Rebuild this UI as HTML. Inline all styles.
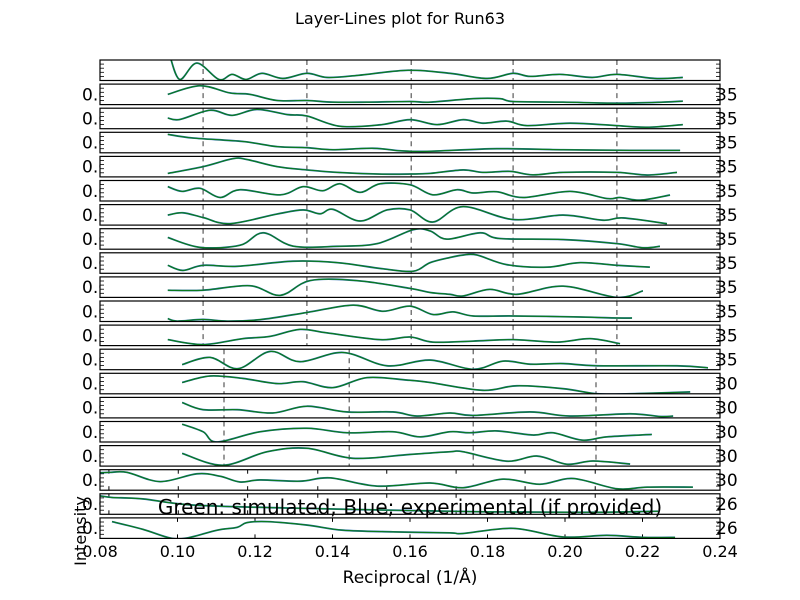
<!DOCTYPE html>
<html><head><meta charset="utf-8"><style>
body{margin:0;background:#fff}
svg{display:block;font-family:"DejaVu Sans","Liberation Sans",sans-serif}
</style></head><body>
<svg id="chart" width="800" height="600" viewBox="0 0 800 600">
<rect width="800" height="600" fill="#fff"/>
<text x="400" y="24" text-anchor="middle" font-size="16">Layer-Lines plot for Run63</text>
<g id="panels"></g>
<g id="xaxis"></g>
<text x="410" y="583" text-anchor="middle" font-size="17">Reciprocal (1/Å)</text>
<text transform="translate(86,531) rotate(-90)" text-anchor="middle" font-size="16">Intensity</text>
<text x="410" y="514" text-anchor="middle" font-size="20">Green: simulated; Blue; experimental (if provided)</text>
</svg>
<script>
const xTicks=[0.08,0.10,0.12,0.14,0.16,0.18,0.20,0.22,0.24];
const xTickLabels=["0.08","0.10","0.12","0.14","0.16","0.18","0.20","0.22","0.24"];
const rightLabels=["","35","35","35","35","35","35","35","35","35","35","35","35","30","30","30","30","30","26","26"];
const gridA=[0.1066,0.1334,0.1603,0.1866,0.2134];
const gridB=[0.1120,0.1443,0.1763,0.2080];
const gridC=[0.0823,0.1002,0.1181,0.1362,0.1540,0.1719,0.1897,0.2078];
const gridD=[0.10,0.12,0.14,0.16,0.18,0.20,0.22];
const layerX=[
[.0981,.1006,.1050,.1107,.1141,.1177,.1218,.1272,.1334,.1386,.1466,.1595,.1703,.1799,.1866,.1910,.1987,.2070,.2134,.2232,.2304],
[.0975,.1058,.1135,.1187,.1257,.1334,.1401,.1489,.1600,.1652,.1763,.1832,.1866,.1995,.2134,.2253,.2304],
[.0975,.1006,.1084,.1141,.1205,.1283,.1334,.1419,.1523,.1600,.1670,.1737,.1788,.1850,.1902,.2013,.2134,.2212,.2304],
[.0975,.1040,.1169,.1257,.1334,.1401,.1505,.1574,.1644,.1824,.1995,.2168,.2297],
[.0975,.1066,.1143,.1179,.1257,.1334,.1412,.1515,.1600,.1652,.1737,.1788,.1858,.1917,.1995,.2134,.2212,.2289],
[.0975,.1012,.1058,.1110,.1161,.1265,.1324,.1375,.1419,.1471,.1523,.1600,.1659,.1721,.1763,.1824,.1892,.2013,.2108,.2142,.2194,.2271],
[.0975,.1014,.1066,.1135,.1257,.1324,.1368,.1401,.1471,.1541,.1600,.1659,.1737,.1866,.1995,.2098,.2150,.2263],
[.0975,.1058,.1161,.1221,.1298,.1412,.1515,.1608,.1652,.1695,.1781,.1832,.1995,.2134,.2201,.2245],
[.0975,.1014,.1066,.1154,.1298,.1412,.1530,.1608,.1652,.1703,.1737,.1773,.1850,.1954,.2039,.2134,.2219],
[.0975,.1066,.1187,.1265,.1342,.1463,.1600,.1652,.1703,.1737,.1806,.1876,.1995,.2134,.2201],
[.0975,.0999,.1066,.1128,.1213,.1334,.1453,.1530,.1600,.1659,.1711,.1763,.1866,.2039,.2134,.2173],
[.0975,.1066,.1169,.1239,.1316,.1386,.1523,.1600,.1659,.1763,.1866,.1979,.2065,.2142],
[.1012,.1084,.1156,.1239,.1316,.1427,.1541,.1652,.1763,.1840,.1910,.1995,.2083,.2289,.2369],
[.1012,.1084,.1169,.1257,.1324,.1401,.1489,.1592,.1652,.1788,.1876,.1995,.2083,.2168,.2323],
[.1012,.1066,.1154,.1246,.1334,.1437,.1556,.1618,.1703,.1763,.1910,.2013,.2168,.2245,.2279],
[.1012,.1066,.1102,.1213,.1334,.1437,.1556,.1626,.1703,.1755,.1824,.1917,.1969,.2044,.2108,.2224],
[.1012,.1117,.1231,.1334,.1453,.1600,.1703,.1737,.1850,.1928,.2005,.2072,.2168],
[.08,.0826,.0870,.0955,.1050,.1110,.1161,.1213,.1316,.1394,.1515,.1652,.1737,.1840,.1935,.2021,.2134,.2212,.2330],
[.08,.0831,.0911,.1040,.1300,.1550,.1800,.2000,.2100,.2240],
[.0831,.0911,.0981,.1025,.1102,.1154,.1179,.1231,.1334,.1427,.1556,.1703,.1737,.1866,.1995,.2108,.2201,.2284]
];
const layerY=[
[1.15,.05,.85,.05,.3,.05,.35,.1,.35,.15,.25,.5,.35,.1,.35,.2,.3,.15,.3,.1,.15],
[.5,.92,.57,.5,.2,.2,.12,.12,.15,.12,.29,.29,.15,.12,.07,.12,.17],
[.52,.45,.9,.65,.94,.69,.62,.12,.19,.44,.2,.44,.27,.37,.15,.27,.15,.07,.2],
[.9,.72,.55,.3,.25,.15,.22,.1,.07,.2,.15,.12,.12],
[.17,.5,.89,.85,.5,.34,.22,.14,.14,.17,.34,.22,.27,.1,.22,.22,.09,.22],
[.7,.47,.62,.17,.55,.3,.7,.5,.84,.42,.84,.79,.3,.55,.39,.45,.17,.47,.12,.17,.04,.29],
[.49,.6,.37,.07,.54,.74,.55,.77,.2,.74,.74,.15,.9,.27,.49,.24,.35,.07],
[.57,.09,.19,.8,.15,.14,.27,.95,.89,.49,.8,.52,.47,.27,.07,.14],
[.39,.14,.39,.34,.59,.52,.22,.1,.52,.77,.89,.89,.42,.3,.52,.39,.3],
[.35,.35,.57,.1,.82,.82,.44,.24,.15,.07,.39,.15,.55,0,.32],
[.14,.02,.1,.02,.09,.44,.8,.5,.75,.34,.47,.27,.27,.22,.17,.17],
[.29,.05,.34,.45,.79,.62,.29,.42,.17,.22,.29,.17,.34,.09],
[.25,.6,.05,.89,.39,.84,.19,.47,.02,.42,.27,.3,.19,.19,.09],
[.55,.87,.75,.5,.59,.3,.79,.67,.55,.17,.39,.25,0,0,.09],
[.75,.4,.4,.24,.57,.29,.29,.09,.24,.12,.29,.09,.2,.07,.09],
[.87,.5,0,.5,.67,.45,.5,.25,.5,.45,.54,.34,.45,.09,.25,.37],
[.62,.04,.7,.87,.38,.57,.7,.7,.24,.49,.09,.25,.1],
[.85,.87,.87,.42,.8,.68,.4,.5,.44,.6,.2,.35,.12,.54,.29,.57,.07,.15,.15],
[.9,.82,.75,.45,.3,.2,.12,.1,.1,.15],
[.82,.44,.02,.02,.4,.54,.77,.82,.65,.4,.32,.27,.24,.49,.07,.15,.05,.05]
];
const NS="http://www.w3.org/2000/svg";
const X0=100,X1=720,D0=0.08,D1=0.24,TOP=60,STEP=24.1,H=20.5;
function sx(v){return X0+(v-D0)/(D1-D0)*(X1-X0);}
function sy(i,v){return TOP+i*STEP+H-v*H;}
function mk(tag,attrs,parent){const e=document.createElementNS(NS,tag);for(const k in attrs)e.setAttribute(k,attrs[k]);parent.appendChild(e);return e;}
function smooth(pts){let d="M"+pts[0][0]+","+pts[0][1];for(let i=0;i<pts.length-1;i++){const p0=pts[Math.max(0,i-1)],p1=pts[i],p2=pts[i+1],p3=pts[Math.min(pts.length-1,i+2)];const c1x=p1[0]+(p2[0]-p0[0])/6,c1y=p1[1]+(p2[1]-p0[1])/6,c2x=p2[0]-(p3[0]-p1[0])/6,c2y=p2[1]-(p3[1]-p1[1])/6;d+=" C"+c1x+","+c1y+" "+c2x+","+c2y+" "+p2[0]+","+p2[1];}return d;}
const panels=document.getElementById('panels');
const defs=mk('defs',{},panels);
for(let i=0;i<20;i++){
  const top=TOP+i*STEP;
  const g=mk('g',{},panels);
  
  
  const cp=mk('clipPath',{id:'cp'+i},defs);
  mk('rect',{x:X0,y:top,width:X1-X0,height:H},cp);
  const grid=i<12?gridA:(i<17?gridB:(i<19?gridC:gridD));
  grid.forEach(v=>{
    if(i<17){const l=mk('line',{x1:sx(v),x2:sx(v),y1:top,y2:top+H,stroke:'#222','stroke-width':0.9,'stroke-dasharray':'5,4'},g);
      
      }
    else{mk('line',{x1:sx(v),x2:sx(v),y1:top,y2:top+4,stroke:'#000'},g);mk('line',{x1:sx(v),x2:sx(v),y1:top+H-4,y2:top+H,stroke:'#000'},g);}
  });
  for(let k=1;k<5;k++){const yy=top+k*H/5;mk('line',{x1:X0,x2:X0+4,y1:yy,y2:yy,stroke:'#000','stroke-width':0.8},g);mk('line',{x1:X1-4,x2:X1,y1:yy,y2:yy,stroke:'#000','stroke-width':0.8},g);}
  const pts=layerX[i].map((x,j)=>[sx(x),sy(i,layerY[i][j])]);
  const d=smooth(pts);
  const lb=mk('path',{d:d,fill:'none',stroke:'#2a6fb0','stroke-width':1.8,'clip-path':'url(#cp'+i+')'},g);
  
  
  const lg=mk('path',{d:d,fill:'none',stroke:'#0a7a1e','stroke-width':1.2,'clip-path':'url(#cp'+i+')'},g);
  
  
  const fr=mk('rect',{x:X0,y:top,width:X1-X0,height:H,fill:'none',stroke:'#000','stroke-width':1.2},g);
  
  
  if(i>0){
    const svgc=mk('svg',{x:70,y:top,width:30,height:H+2,overflow:'hidden'},g);
    const t=mk('text',{x:12,y:H/2+6,'font-size':17},svgc);t.textContent='0.0';
    
    
    const r=mk('text',{x:716,y:top+H/2+6,'font-size':17},g);r.textContent=rightLabels[i];
    
    
  }
}
const xa=document.getElementById('xaxis');
xTicks.forEach((v,k)=>{
  const t=mk('text',{x:sx(v),y:557,'text-anchor':'middle','font-size':16},xa);
  t.textContent=xTickLabels[k];
  
  
});
</script>
</body></html>
